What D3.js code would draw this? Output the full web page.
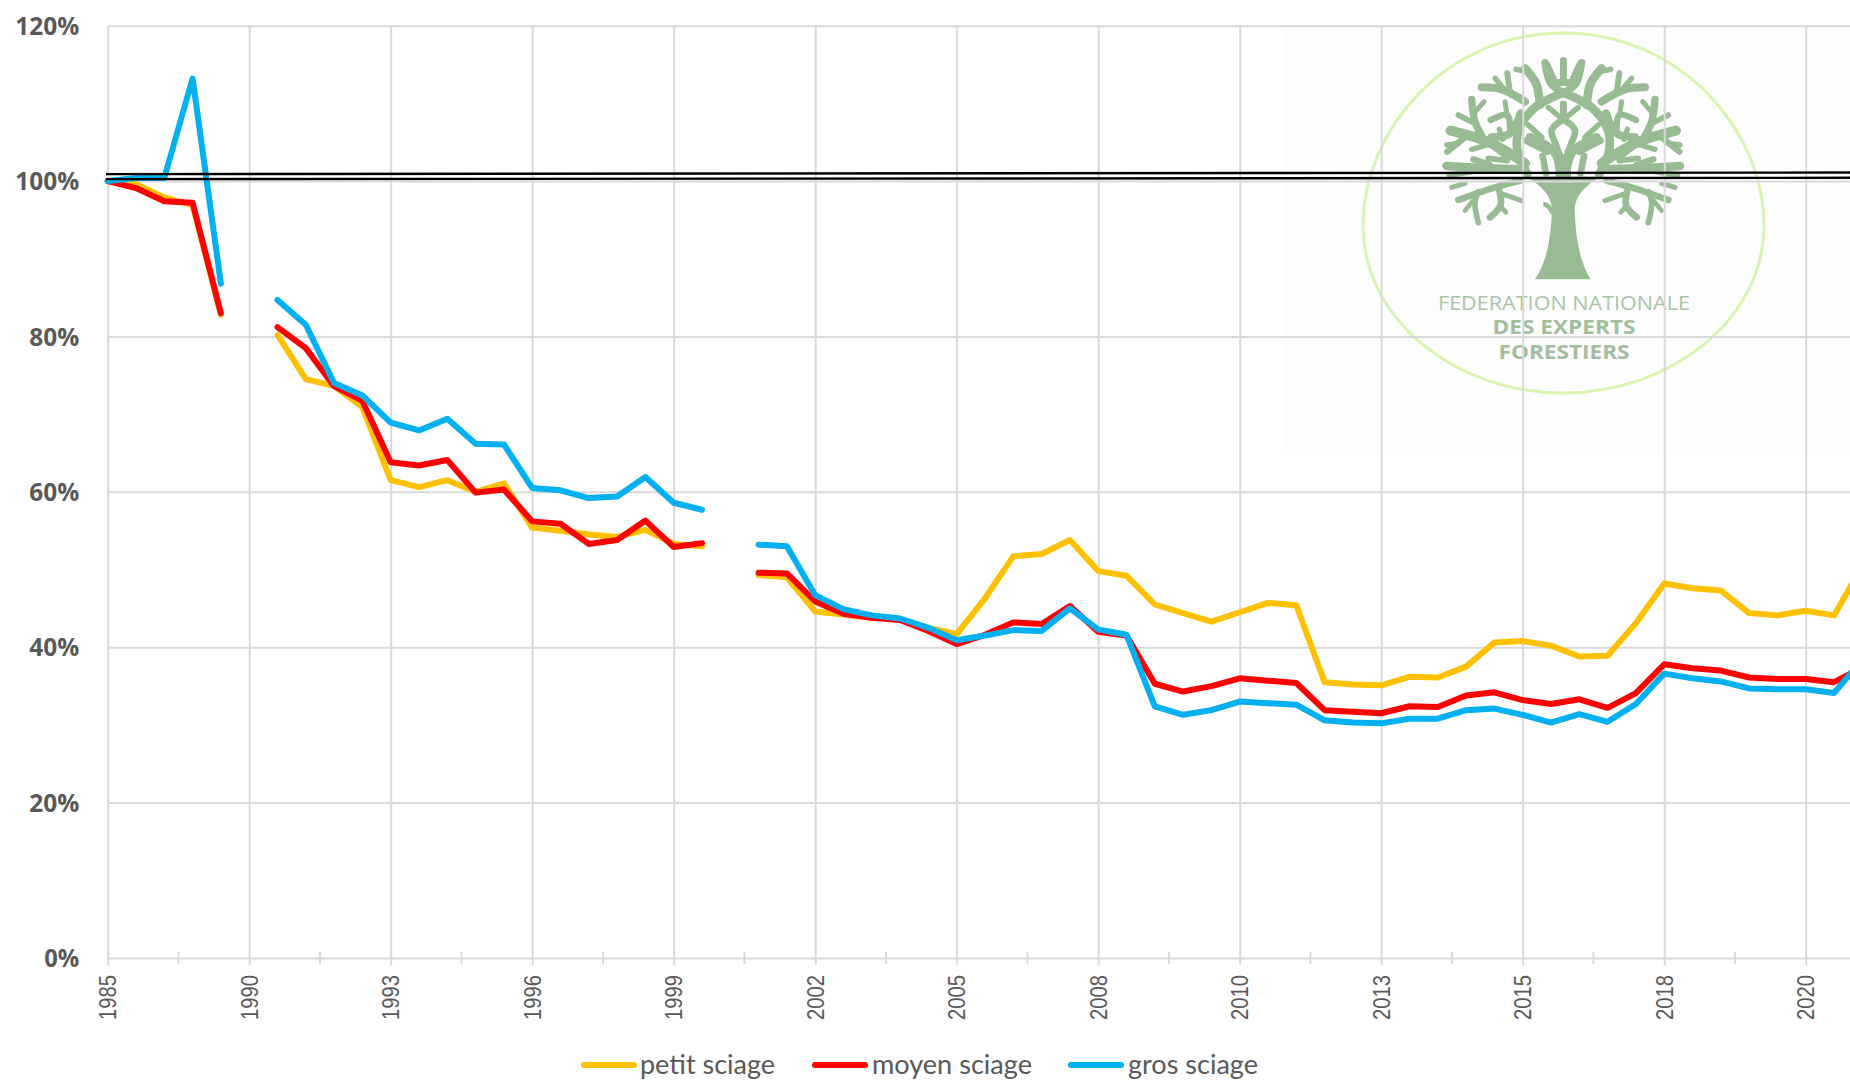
<!DOCTYPE html>
<html>
<head>
<meta charset="utf-8">
<script src="https://cdn.jsdelivr.net/npm/d3@7"></script>
<style>
  html, body { margin: 0; padding: 0; background: #fff; overflow: hidden; }
  svg { display: block; }
</style>
</head>
<body>
<svg id="my_dataviz" width="1850" height="1081"></svg>

<script>

// Values, in %, null where the curves break
var petit = [100, 99.6, 97.9, 96.9, 82.8, null,
  80.2, 74.5, 73.6, 70.9, 61.5, 60.6, 61.5, 60.0, 61.1, 55.4, 55.0, 54.5, 54.2, 55.1, 53.3, 53.0, null,
  49.3, 49.0, 44.6, 44.2, 43.8, 43.6, 42.5, 41.7, 46.3, 51.7, 52.0, 53.8, 49.8, 49.2, 45.5, 44.4, 43.3,
  44.5, 45.7, 45.4, 35.5, 35.2, 35.1, 36.2, 36.1, 37.5, 40.6, 40.8, 40.2, 38.8, 38.9, 43.1, 48.2, 47.6,
  47.3, 44.4, 44.1, 44.7, 44.1, 50.4];
var moyen = [100, 99.1, 97.4, 97.2, 83.0, null,
  81.2, 78.5, 73.6, 71.7, 63.8, 63.4, 64.1, 59.9, 60.3, 56.2, 55.9, 53.3, 53.8, 56.3, 52.9, 53.4, null,
  49.6, 49.5, 45.9, 44.3, 43.8, 43.5, 42.1, 40.4, 41.6, 43.2, 43.0, 45.3, 42.0, 41.5, 35.3, 34.3, 35.0,
  36.0, 35.7, 35.4, 31.9, 31.7, 31.5, 32.4, 32.3, 33.8, 34.2, 33.2, 32.7, 33.3, 32.2, 34.1, 37.8, 37.3,
  37.0, 36.1, 35.9, 35.9, 35.5, 37.4];
var gros = [100, 100.4, 100.4, 113.2, 86.8, null,
  84.7, 81.5, 74.0, 72.4, 68.9, 67.9, 69.4, 66.2, 66.1, 60.5, 60.2, 59.2, 59.4, 61.9, 58.6, 57.7, null,
  53.2, 53.0, 46.7, 44.9, 44.1, 43.7, 42.5, 40.9, 41.5, 42.2, 42.1, 45.0, 42.3, 41.6, 32.4, 31.3, 31.9,
  33.0, 32.8, 32.6, 30.6, 30.3, 30.2, 30.8, 30.8, 31.9, 32.1, 31.3, 30.3, 31.4, 30.4, 32.7, 36.6, 36.0,
  35.6, 34.7, 34.6, 34.6, 34.1, 38.4];

var seriesNames = ["petit sciage", "moyen sciage", "gros sciage"];
var seriesColors = ["#ffc000", "#ff0000", "#00b0f0"];

var yearLabels = ["1985", "1990", "1993", "1996", "1999", "2002", "2005", "2008", "2010", "2013", "2015", "2018", "2020"];
var yTicks = [0, 20, 40, 60, 80, 100, 120];

// the two black lines drawn by hand across the chart: [left value, right value]
var refLines = [[100.9, 101.1], [100.25, 100.42]];

var svg = d3.select("svg"),
    width = +svg.attr("width");

// one category every 28.3px, a label every 5 categories
var x = d3.scaleLinear().domain([0, 62]).range([107.7, 107.7 + 62 * 28.3]);
var y = d3.scaleLinear().domain([0, 120]).range([958, 25.7]);

var majorIdx = yearLabels.map(function(d, i){ return i * 5 });
var minorIdx = majorIdx.map(function(d){ return d + 2.5 });

// ---- logo, behind the grid ----
var logo = svg.append("g");
logo.append("rect").attr("x", 1283).attr("y", 27).attr("width", 567).attr("height", 428).attr("fill", "#fdfdfd");
// the ring is not a true ellipse, it is widest below its middle
logo.append("path")
  .attr("d", "M1563,33 C1680,33 1764,130 1764,225 C1764,320 1670,393 1563,393 C1456,393 1363,320 1363,225 C1363,130 1446,33 1563,33 Z")
  .attr("fill", "none").attr("stroke", "#d9f4b0").attr("stroke-width", 3);

var treeColor = "#98bb94";
// tree is traced in a 3x space, origin at 1430,50
var tree = logo.append("g").attr("transform", "translate(1430,50) scale(0.3333)");
tree.append("path")
  .attr("d", "M315,688 Q362,620 366,480 Q366,425 290,380 L510,380 Q434,425 434,480 Q438,620 482,688 Z")
  .attr("fill", treeColor);

var line2 = d3.line().curve(d3.curveCatmullRom);

// [width, points] : one half of the crown, mirrored for the other half
var branches = [
  [26, [[292, 372], [262, 300], [268, 235], [318, 170], [400, 128]]],
  [26, [[392, 368], [372, 305], [300, 262]]],
  [20, [[348, 370], [338, 318]]],
  [20, [[352, 305], [288, 272]]],
  [17, [[335, 262], [295, 225]]],
  [20, [[400, 340], [378, 285], [365, 240], [400, 208]]],
  [20, [[400, 205], [400, 162]]],
  [16, [[395, 205], [355, 172]]],
  [26, [[330, 165], [318, 100], [285, 55]]],
  [16, [[290, 65], [258, 58]]],
  [22, [[400, 128], [362, 100], [345, 38]]],
  [16, [[372, 85], [352, 42]]],
  [20, [[400, 90], [400, 32]]],
  [20, [[370, 98], [430, 98]]],
  [24, [[285, 155], [215, 118], [155, 112]]],
  [16, [[225, 120], [195, 85]]],
  [18, [[240, 128], [232, 70]]],
  [30, [[285, 340], [180, 278], [62, 242]]],
  [22, [[165, 275], [135, 215], [125, 148]]],
  [17, [[130, 218], [85, 195]]],
  [15, [[132, 190], [162, 155]]],
  [19, [[110, 258], [52, 305]]],
  [16, [[85, 280], [50, 285]]],
  [16, [[170, 285], [125, 298]]],
  [16, [[195, 295], [225, 318]]],
  [24, [[272, 190], [240, 250], [185, 262]]],
  [19, [[240, 250], [232, 195], [182, 210]]],
  [15, [[232, 200], [225, 155]]],
  [16, [[208, 238], [218, 268]]],
  [26, [[285, 358], [180, 355], [50, 348]]],
  [19, [[180, 345], [130, 328]]],
  [17, [[175, 325], [232, 332]]],
  [18, [[120, 365], [58, 376]]],
  [15, [[105, 400], [65, 412]]],
  [20, [[270, 392], [195, 412], [85, 450]]],
  [17, [[145, 425], [135, 460], [145, 518]]],
  [14, [[135, 445], [105, 482]]],
  [20, [[205, 412], [212, 465], [180, 502]]],
  [15, [[212, 430], [275, 452]]],
  [14, [[212, 470], [228, 487]]]
];

[1, -1].forEach(function(side){
  var half = tree.append("g")
    .attr("transform", side === 1 ? null : "translate(800,0) scale(-1,1)");
  branches.forEach(function(b){
    half.append("path")
      .attr("d", line2(b[1]))
      .attr("fill", "none")
      .attr("stroke", treeColor)
      .attr("stroke-width", b[0])
      .attr("stroke-linecap", "round")
      .attr("stroke-linejoin", "round");
  });
});
// nub on the trunk and the centre of the crown
tree.append("path").attr("d", "M340,462 Q358,464 368,490").attr("fill", "none").attr("stroke", treeColor).attr("stroke-width", 14);
tree.append("path").attr("d", "M400,395 L400,345").attr("stroke", treeColor).attr("stroke-width", 46);

var logoText = [
  {t: "FEDERATION NATIONALE", cy: 310, w: 252, weight: 400, c: "#a9c5a7"},
  {t: "DES EXPERTS", cy: 334.3, w: 143, weight: 700, c: "#a0bf9d"},
  {t: "FORESTIERS", cy: 358.7, w: 131, weight: 700, c: "#a0bf9d"}
];
logo.selectAll("text.logo")
  .data(logoText)
  .enter()
  .append("text")
    .attr("class", "logo")
    .attr("x", 1564)
    .attr("y", function(d){ return d.cy })
    .attr("text-anchor", "middle")
    .attr("textLength", function(d){ return d.w })
    .attr("lengthAdjust", "spacingAndGlyphs")
    .style("font-family", "'Open Sans'")
    .style("font-size", "19.5px")
    .style("font-weight", function(d){ return d.weight })
    .style("fill", function(d){ return d.c })
    .text(function(d){ return d.t });

// ---- axes and grid ----
var gridColor = "#d9d9d9";

// horizontal grid + bold % labels
var yAxis = svg.append("g")
  .attr("transform", "translate(107.7,0)")
  .call(d3.axisLeft(y)
    .tickValues(yTicks)
    .tickSize(-(width - 107.7))
    .tickPadding(28.5)
    .tickFormat(function(d){ return d + "%" }));
yAxis.select(".domain").remove();
yAxis.selectAll("line").attr("stroke", gridColor).attr("stroke-width", 2);
yAxis.selectAll("text")
  .attr("dy", "0.35em")
  .attr("textLength", function(d){ return d === 0 ? 35 : d === 100 || d === 120 ? 64 : 50 })
  .attr("lengthAdjust", "spacingAndGlyphs")
  .style("font-family", "'Open Sans'")
  .style("font-weight", 700)
  .style("font-size", "24.5px")
  .style("fill", "#595959");

// vertical grid from the same major positions
var xGrid = svg.append("g")
  .attr("transform", "translate(0,965)")
  .call(d3.axisBottom(x)
    .tickValues(majorIdx)
    .tickSize(-939)
    .tickFormat(""));
xGrid.select(".domain").remove();
xGrid.selectAll("line").attr("stroke", gridColor).attr("stroke-width", 2);

// little ticks halfway between the labels
svg.append("g")
  .selectAll("line")
  .data(minorIdx)
  .enter()
  .append("line")
    .attr("x1", function(d){ return x(d) })
    .attr("x2", function(d){ return x(d) })
    .attr("y1", 952)
    .attr("y2", 964)
    .attr("stroke", gridColor)
    .attr("stroke-width", 2);

// rotated year labels
svg.append("g")
  .selectAll("text")
  .data(yearLabels)
  .enter()
  .append("text")
    .attr("transform", function(d, i){ return "translate(" + (x(majorIdx[i]) + 8.5) + ",1020) rotate(-90)" })
    .attr("textLength", 45)
    .attr("lengthAdjust", "spacingAndGlyphs")
    .style("font-family", "'Liberation Sans'")
    .style("font-size", "23px")
    .style("fill", "#595959")
    .text(function(d){ return d });

// ---- curves ----
var curve = d3.line()
  .defined(function(d){ return d !== null })
  .x(function(d, i){ return x(i) })
  .y(function(d){ return y(d) });

[petit, moyen, gros].forEach(function(values, k){
  svg.append("path")
    .datum(values)
    .attr("d", curve)
    .attr("fill", "none")
    .attr("stroke", seriesColors[k])
    .attr("stroke-width", 6)
    .attr("stroke-linecap", "round")
    .attr("stroke-linejoin", "round");
});

// black lines on top of everything
svg.append("g")
  .selectAll("line")
  .data(refLines)
  .enter()
  .append("line")
    .attr("x1", 106)
    .attr("x2", width)
    .attr("y1", function(d){ return y(d[0]) })
    .attr("y2", function(d){ return y(d[1]) })
    .attr("stroke", "#000")
    .attr("stroke-width", 2.4);

// ---- legend ----
var legendKeyX = [581, 812, 1068];
var legendTextX = [640, 872, 1128];
var legendTextW = [135, 160, 130];

var legend = svg.append("g");
legend.selectAll("line")
  .data(seriesNames)
  .enter()
  .append("line")
    .attr("x1", function(d, i){ return legendKeyX[i] + 3 })
    .attr("x2", function(d, i){ return legendKeyX[i] + 53 })
    .attr("y1", 1065)
    .attr("y2", 1065)
    .attr("stroke", function(d, i){ return seriesColors[i] })
    .attr("stroke-width", 6)
    .attr("stroke-linecap", "round");
legend.selectAll("text")
  .data(seriesNames)
  .enter()
  .append("text")
    .attr("x", function(d, i){ return legendTextX[i] })
    .attr("y", 1074)
    .attr("textLength", function(d, i){ return legendTextW[i] })
    .attr("lengthAdjust", "spacingAndGlyphs")
    .style("font-family", "Lato")
    .style("font-size", "26px")
    .style("fill", "#595959")
    .text(function(d){ return d });

</script>
</body>
</html>
